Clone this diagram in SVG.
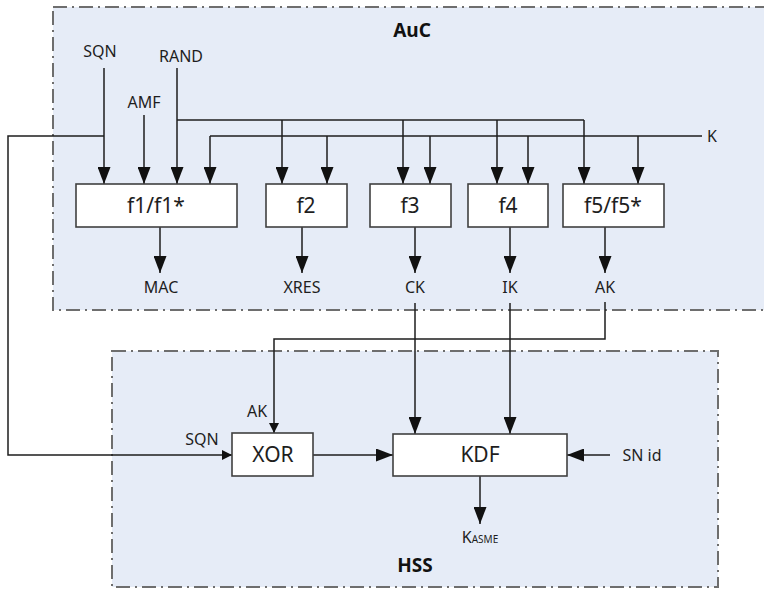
<svg xmlns="http://www.w3.org/2000/svg" width="764" height="590" viewBox="0 0 764 590">
<style>
.zone{fill:#E6ECF7;stroke:#6E6E6E;stroke-width:2;stroke-dasharray:14 5 2 5}
.box{fill:#FFFFFF;stroke:#404040;stroke-width:1.6}
.ln{fill:none;stroke:#1E1E1E;stroke-width:1.5}
.big{marker-end:url(#ah)}
.sm{marker-end:url(#as)}
.bt{font-family:"Noto Sans","Liberation Sans",sans-serif;font-size:21px;fill:#1E1E1E;text-anchor:middle}
.lb{font-family:"Noto Sans","Liberation Sans",sans-serif;font-size:16px;fill:#1E1E1E;text-anchor:middle}
.tt{font-family:"Noto Sans","Liberation Sans",sans-serif;font-size:19px;font-weight:bold;fill:#111;text-anchor:middle}
</style>
<defs>
<marker id="ah" markerUnits="userSpaceOnUse" markerWidth="18" markerHeight="13" refX="17" refY="6.5" orient="auto">
<path d="M0,0 L17,6.5 L0,13 z" fill="#111"/>
</marker>
<marker id="as" markerUnits="userSpaceOnUse" markerWidth="11" markerHeight="10" refX="10" refY="5" orient="auto">
<path d="M0,0 L10,5 L0,10 z" fill="#111"/>
</marker>
</defs>
<g id="AuC">
<rect class="zone" x="53" y="7" width="720" height="303"/>
<text class="tt" x="412" y="37">AuC</text>
</g>
<g id="HSS">
<rect class="zone" x="112" y="351" width="606" height="236"/>
<text class="tt" x="415" y="572">HSS</text>
</g>
<g id="connectors">
<path class="ln big" d="M104,68 V184"/>
<path class="ln big" d="M144,115 V184"/>
<path class="ln big" d="M177,68 V184"/>
<path class="ln" d="M177,120 H584"/>
<path class="ln big" d="M282,120 V184"/>
<path class="ln big" d="M403,120 V184"/>
<path class="ln big" d="M497,120 V184"/>
<path class="ln big" d="M584,120 V184"/>
<path class="ln" d="M702,136 H210"/>
<path class="ln big" d="M210,136 V184"/>
<path class="ln big" d="M327,136 V184"/>
<path class="ln big" d="M430,136 V184"/>
<path class="ln big" d="M528,136 V184"/>
<path class="ln big" d="M638,136 V184"/>
<path class="ln big" d="M160,227 V273"/>
<path class="ln big" d="M302,227 V273"/>
<path class="ln big" d="M415,227 V273"/>
<path class="ln big" d="M510,227 V273"/>
<path class="ln big" d="M605,227 V273"/>
<path class="ln sm" d="M104,136 H8 V455 H232"/>
<path class="ln sm" d="M605,302 V339 H274 V433"/>
<path class="ln big" d="M415,303 V434"/>
<path class="ln big" d="M510,303 V434"/>
<path class="ln big" d="M313,455 H393"/>
<path class="ln big" d="M610,455 H567"/>
<path class="ln big" d="M480,476 V524"/>
</g>
<g id="labels">
<text class="lb" x="100" y="57">SQN</text>
<text class="lb" x="144" y="108">AMF</text>
<text class="lb" x="181" y="62">RAND</text>
<text class="lb" x="712" y="142">K</text>
<text class="lb" x="161" y="293">MAC</text>
<text class="lb" x="302" y="293">XRES</text>
<text class="lb" x="415" y="293">CK</text>
<text class="lb" x="510" y="293">IK</text>
<text class="lb" x="605" y="293">AK</text>
<text class="lb" x="257" y="417">AK</text>
<text class="lb" x="202" y="445">SQN</text>
<text class="lb" x="642" y="461">SN id</text>
<text class="lb" x="480" y="543"><tspan>K</tspan><tspan font-size="10">ASME</tspan></text>
</g>
<g id="f1"><rect class="box" x="76" y="184" width="161" height="43"/><text class="bt" x="156" y="213">f1/f1*</text></g>
<g id="f2"><rect class="box" x="266" y="184" width="81" height="43"/><text class="bt" x="306" y="213">f2</text></g>
<g id="f3"><rect class="box" x="370" y="184" width="81" height="43"/><text class="bt" x="410" y="213">f3</text></g>
<g id="f4"><rect class="box" x="468" y="184" width="80" height="43"/><text class="bt" x="508" y="213">f4</text></g>
<g id="f5"><rect class="box" x="563" y="184" width="101" height="43"/><text class="bt" x="613" y="213">f5/f5*</text></g>
<g id="XOR"><rect class="box" x="232" y="433" width="81" height="43"/><text class="bt" x="273" y="462">XOR</text></g>
<g id="KDF"><rect class="box" x="393" y="434" width="174" height="42"/><text class="bt" x="480" y="462">KDF</text></g>
</svg>
